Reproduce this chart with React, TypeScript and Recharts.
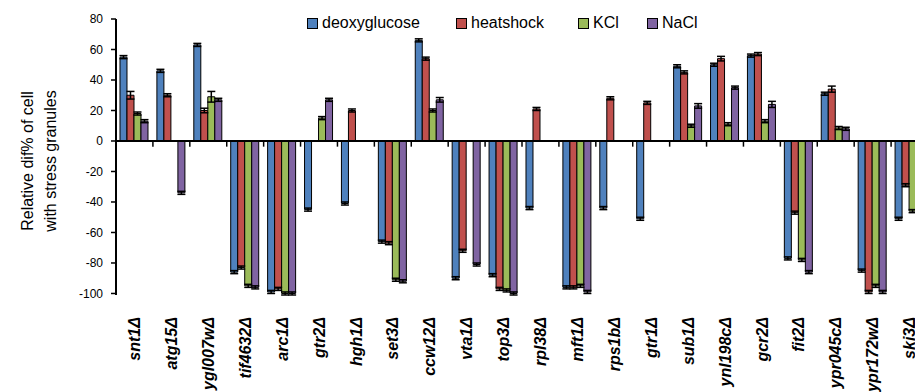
import React from "react";
import {
  BarChart,
  Bar,
  XAxis,
  YAxis,
  ReferenceLine,
  ErrorBar,
  Label,
} from "recharts";

const strains = [
  "snt1Δ", "atg15Δ", "ygl007wΔ", "tif4632Δ", "arc1Δ", "gtr2Δ", "hgh1Δ", "set3Δ",
  "ccw12Δ", "vta1Δ", "top3Δ", "rpl38Δ", "mft1Δ", "rps1bΔ", "gtr1Δ", "sub1Δ",
  "ynl198cΔ", "gcr2Δ", "fit2Δ", "ypr045cΔ", "ypr172wΔ", "ski3Δ",
];

const deoxyglucose = [55, 46, 63, -86, -99, -45, -41, -66, 66, -90, -88, -44, -96, -44, -51, 49, 50, 56, -77, 31, -85, -51];
const heatshock = [30, 30, 20, -83, -97, null, 20, -67, 54, -72, -97, 21, -96, 28, 25, 45, 54, 57, -47, 34, -99, -29];
const kcl = [18, null, 29, -95, -100, 15, null, -91, 20, null, -98, null, -95, null, null, 10, 11, 13, -78, 8.5, -95, -46];
const nacl = [13, -34, 27, -96, -100, 27, null, -92, 27, -81, -100, null, -99, null, null, 23, 35, 24, -86, 8, -99, -40];

const deoxyglucoseErr = [1, 1, 1, 1, 1, 1, 1, 1, 1, 1, 1, 1, 1, 1, 1, 1, 1, 1, 1, 1, 1, 1];
const heatshockErr = [2.5, 1, 1.5, 1, 1, 0, 1, 1, 1, 1, 1, 1, 1, 1, 1, 1, 1.5, 1, 1, 2, 1, 1];
const kclErr = [1, 0, 3.5, 1, 1, 1, 0, 1, 1, 0, 1, 0, 1, 0, 0, 1, 1, 1, 1, 1, 1, 1];
const naclErr = [1, 1, 1, 1, 1, 1, 0, 1, 1.5, 1, 1, 0, 1, 0, 0, 1.5, 1, 2, 1, 1, 1, 1];

const yTicks = [-100, -80, -60, -40, -20, 0, 20, 40, 60, 80];

const series = [
  { key: "deoxyglucose", err: "deoxyglucoseErr", color: "#4F81BD" },
  { key: "heatshock", err: "heatshockErr", color: "#C0504D" },
  { key: "KCl", err: "kclErr", color: "#9BBB59" },
  { key: "NaCl", err: "naclErr", color: "#8064A2" },
];

const data = strains.map((name, i) => ({
  name,
  deoxyglucose: deoxyglucose[i],
  heatshock: heatshock[i],
  KCl: kcl[i],
  NaCl: nacl[i],
  deoxyglucoseErr: deoxyglucose[i] == null ? null : deoxyglucoseErr[i],
  heatshockErr: heatshock[i] == null ? null : heatshockErr[i],
  kclErr: kcl[i] == null ? null : kclErr[i],
  naclErr: nacl[i] == null ? null : naclErr[i],
}));

const FONT = "'Liberation Sans', Arial, sans-serif";
const CHART_W = 929;
const CHART_H = 392;
const PLOT_LEFT = 116;
const PLOT_TOP = 19;
const PLOT_BOTTOM = 295;
const BAND = (CHART_W - PLOT_LEFT - 1) / strains.length;
const ZERO_Y = PLOT_TOP + ((PLOT_BOTTOM - PLOT_TOP) * 80) / 180;

const StrainTick = (props: any) => {
  const { x, payload, index } = props;
  const bx = x - BAND / 2;
  return (
    <g>
      {index > 0 && (
        <line x1={bx} x2={bx} y1={ZERO_Y} y2={ZERO_Y + 5} stroke="#000" strokeWidth={1.5} />
      )}
      <text
        x={x}
        y={317}
        dy="0.35em"
        transform={`rotate(-90 ${x} 317)`}
        textAnchor="end"
        fontFamily={FONT}
        fontSize={16}
        fontWeight="bold"
        fontStyle="italic"
        fill="#000"
      >
        {payload.value}
      </text>
    </g>
  );
};

const YTitle = () => (
  <g>
    <text
      x={27}
      y={161}
      dy="0.35em"
      transform="rotate(-90 27 161)"
      textAnchor="middle"
      fontFamily={FONT}
      fontSize={16}
      fill="#000"
    >
      Relative dif% of cell
    </text>
    <text
      x={50}
      y={161}
      dy="0.35em"
      transform="rotate(-90 50 161)"
      textAnchor="middle"
      fontFamily={FONT}
      fontSize={16}
      fill="#000"
    >
      with stress granules
    </text>
  </g>
);

const legendLeft = [307, 456, 578, 647];

export default function App() {
  return (
    <div
      style={{
        position: "fixed",
        left: 0,
        top: 0,
        width: 915,
        height: 392,
        overflow: "hidden",
        background: "#fff",
      }}
    >
      <BarChart
        width={CHART_W}
        height={CHART_H}
        data={data}
        margin={{ top: PLOT_TOP, right: 1, bottom: 0, left: 0 }}
        barCategoryGap="10.8%"
        barGap={0}
      >
        <XAxis
          dataKey="name"
          axisLine={false}
          tickLine={false}
          interval={0}
          height={CHART_H - PLOT_BOTTOM}
          tick={<StrainTick />}
        />
        <YAxis
          width={PLOT_LEFT}
          domain={[-100, 80]}
          ticks={yTicks}
          interval={0}
          tickSize={5}
          tickMargin={8}
          axisLine={{ stroke: "#000", strokeWidth: 2 }}
          tickLine={{ stroke: "#000", strokeWidth: 1.5 }}
          tick={{ fill: "#000", fontSize: 12, fontFamily: FONT }}
        >
          <Label content={<YTitle />} />
        </YAxis>
        {series.map((s) => (
          <Bar
            key={s.key}
            dataKey={s.key}
            fill={s.color}
            stroke="#000"
            strokeWidth={1}
            isAnimationActive={false}
          >
            <ErrorBar dataKey={s.err} width={4} stroke="#000" strokeWidth={1.5} direction="y" />
          </Bar>
        ))}
        <ReferenceLine y={0} stroke="#000" strokeWidth={2} />
      </BarChart>
      {series.map((s, i) => (
        <div
          key={s.key}
          style={{
            position: "absolute",
            left: legendLeft[i],
            top: 14,
            display: "flex",
            alignItems: "center",
            fontFamily: FONT,
            fontSize: 16,
            color: "#000",
            whiteSpace: "nowrap",
          }}
        >
          <span
            style={{
              display: "inline-block",
              width: 9,
              height: 9,
              background: s.color,
              border: "1.5px solid #000",
              marginRight: 4,
            }}
          />
          {s.key === "deoxyglucose" ? "deoxyglucose" : s.key}
        </div>
      ))}
    </div>
  );
}
